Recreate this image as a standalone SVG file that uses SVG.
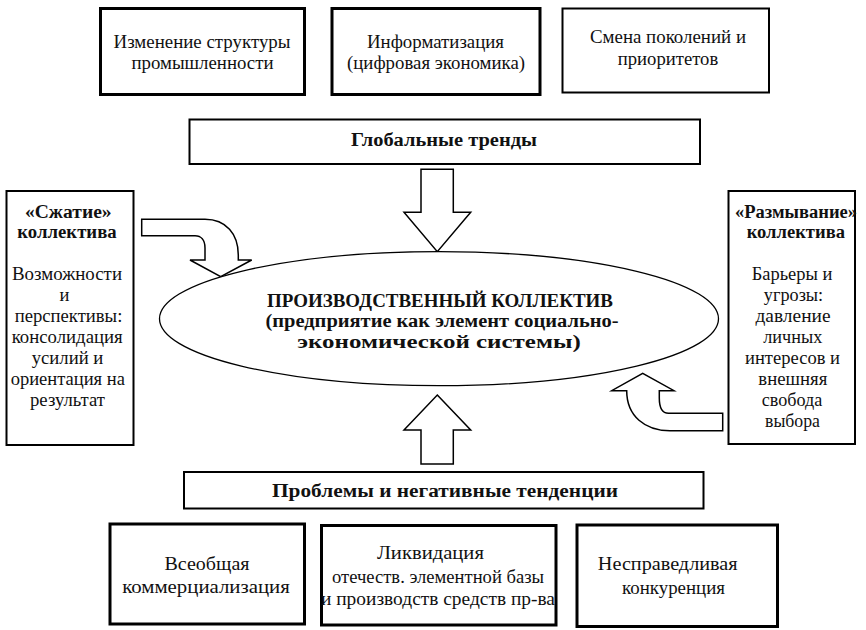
<svg xmlns="http://www.w3.org/2000/svg" width="866" height="630" viewBox="0 0 866 630" font-family="'Liberation Serif', 'DejaVu Serif', serif">
<style>
.bg{fill:#fff}
.thick{fill:#fff;stroke:#000;stroke-width:3}
.thin{fill:#fff;stroke:#000;stroke-width:2}
.ell{fill:#fff;stroke:#000;stroke-width:1.3}
.arr{fill:#fff;stroke:#000;stroke-width:1.5;stroke-linejoin:miter}
text{font-family:'Liberation Serif','DejaVu Serif',serif;fill:#111;text-anchor:middle}
.t{font-size:18.5px}
.tb{font-size:18.5px;font-weight:bold}
.tl{font-size:19.5px}
</style>
<rect class="bg" x="0" y="0" width="866" height="630"/>
<g id="connectors">
<path class="arr" d="M421,169.3 L453.3,169.3 L453.3,212.3 L470.7,212.3 L437.3,251.7 L404,212.3 L421,212.3 Z"/>
<path class="arr" d="M437.3,395 L470.7,430 L453.3,430 L453.3,464 L421,464 L421,430 L404,430 Z"/>
<path class="arr" d="M141.7,219.3 L205,219.3 C226,219.3 238.3,234 238.3,255 L238.3,260 L251.7,260 L220.7,276.7 L190,260 L205,260 L205,248 C205,240 201,235.7 195,235.7 L141.7,235.7 Z"/>
<path class="arr" d="M722.7,413.3 L668.5,413.3 C662,413.3 659.3,407 659.3,398 L659.3,390.7 L674,390.7 L642.7,373.3 L611.7,390.7 L626.7,390.7 C626.7,416 645,430.7 670,430.7 L722.7,430.7 Z"/>
</g>
<g id="box-structure">
<rect class="thick" x="100.5" y="8.5" width="204" height="86"/>
<text class="t" x="202" y="48" textLength="177" lengthAdjust="spacingAndGlyphs">Изменение структуры</text>
<text class="t" x="202.5" y="68.5" textLength="142" lengthAdjust="spacingAndGlyphs">промышленности</text>
</g>
<g id="box-info">
<rect class="thick" x="332" y="8.5" width="208" height="86"/>
<text class="t" x="435.5" y="48" textLength="137" lengthAdjust="spacingAndGlyphs">Информатизация</text>
<text class="t" x="436" y="68.5" textLength="178" lengthAdjust="spacingAndGlyphs">(цифровая экономика)</text>
</g>
<g id="box-generations">
<rect class="thin" x="562.5" y="8.5" width="206.5" height="84"/>
<text class="t" x="668" y="43" textLength="156" lengthAdjust="spacingAndGlyphs">Смена поколений и</text>
<text class="t" x="668" y="64.5" textLength="100.5" lengthAdjust="spacingAndGlyphs">приоритетов</text>
</g>
<g id="box-global">
<rect class="thin" x="189.5" y="119.5" width="510.5" height="44.5"/>
<text class="tb" x="444" y="146" textLength="186" lengthAdjust="spacingAndGlyphs">Глобальные тренды</text>
</g>
<g id="ellipse-collective">
<ellipse class="ell" cx="439" cy="318.7" rx="279.5" ry="67"/>
<text class="tb" x="440" y="306.5" textLength="346" lengthAdjust="spacingAndGlyphs">ПРОИЗВОДСТВЕННЫЙ КОЛЛЕКТИВ</text>
<text class="tb" x="442" y="327" textLength="353" lengthAdjust="spacingAndGlyphs">(предприятие как элемент социально-</text>
<text class="tb" x="439" y="348" textLength="283.5" lengthAdjust="spacingAndGlyphs">экономической системы)</text>
</g>
<g id="box-compression">
<rect class="thin" x="6.5" y="191" width="127" height="254"/>
<text class="tb" x="68.3" y="217.5" textLength="86.7" lengthAdjust="spacingAndGlyphs">«Сжатие»</text>
<text class="tb" x="67" y="237.5" textLength="99.4" lengthAdjust="spacingAndGlyphs">коллектива</text>
<text class="t" x="67" y="280" textLength="110" lengthAdjust="spacingAndGlyphs">Возможности</text>
<text class="t" x="64.5" y="301">и</text>
<text class="t" x="68.5" y="322" textLength="107.7" lengthAdjust="spacingAndGlyphs">перспективы:</text>
<text class="t" x="67.2" y="343" textLength="111" lengthAdjust="spacingAndGlyphs">консолидация</text>
<text class="t" x="67.5" y="364" textLength="71.6" lengthAdjust="spacingAndGlyphs">усилий и</text>
<text class="t" x="67.8" y="385" textLength="114.3" lengthAdjust="spacingAndGlyphs">ориентация на</text>
<text class="t" x="67.5" y="406" textLength="75" lengthAdjust="spacingAndGlyphs">результат</text>
</g>
<g id="box-erosion">
<rect class="thin" x="728.5" y="191" width="126.5" height="253"/>
<text class="tb" x="796" y="217.5" textLength="122" lengthAdjust="spacingAndGlyphs">«Размывание»</text>
<text class="tb" x="795.8" y="237.5" textLength="98.3" lengthAdjust="spacingAndGlyphs">коллектива</text>
<text class="t" x="792" y="280" textLength="80.7" lengthAdjust="spacingAndGlyphs">Барьеры и</text>
<text class="t" x="793.5" y="301" textLength="59.3" lengthAdjust="spacingAndGlyphs">угрозы:</text>
<text class="t" x="793" y="322" textLength="75" lengthAdjust="spacingAndGlyphs">давление</text>
<text class="t" x="792.8" y="343" textLength="59" lengthAdjust="spacingAndGlyphs">личных</text>
<text class="t" x="792.5" y="364" textLength="95" lengthAdjust="spacingAndGlyphs">интересов и</text>
<text class="t" x="792.8" y="385" textLength="69" lengthAdjust="spacingAndGlyphs">внешняя</text>
<text class="t" x="792" y="406" textLength="60.6" lengthAdjust="spacingAndGlyphs">свобода</text>
<text class="t" x="792.5" y="427" textLength="55" lengthAdjust="spacingAndGlyphs">выбора</text>
</g>
<g id="box-problems">
<rect class="thin" x="184" y="472" width="519.5" height="36.5"/>
<text class="tb" x="445" y="497" textLength="346" lengthAdjust="spacingAndGlyphs">Проблемы и негативные тенденции</text>
</g>
<g id="box-commercialization">
<rect class="thick" x="110" y="524" width="194.5" height="100"/>
<text class="tl" x="207" y="569.5" textLength="85" lengthAdjust="spacingAndGlyphs">Всеобщая</text>
<text class="tl" x="206" y="593" textLength="167.7" lengthAdjust="spacingAndGlyphs">коммерциализация</text>
</g>
<g id="box-liquidation">
<rect class="thick" x="321.5" y="525.5" width="234.5" height="99.5"/>
<text class="tl" x="430.4" y="559" textLength="107" lengthAdjust="spacingAndGlyphs">Ликвидация</text>
<text class="tl" x="438" y="583" textLength="212" lengthAdjust="spacingAndGlyphs">отечеств. элементной базы</text>
<text class="tl" x="438" y="605" textLength="234" lengthAdjust="spacingAndGlyphs">и производств средств пр-ва</text>
</g>
<g id="box-competition">
<rect class="thick" x="577" y="525" width="200.5" height="101.5"/>
<text class="tl" x="667.7" y="570" textLength="139.7" lengthAdjust="spacingAndGlyphs">Несправедливая</text>
<text class="tl" x="673.5" y="594" textLength="103" lengthAdjust="spacingAndGlyphs">конкуренция</text>
</g>
</svg>
